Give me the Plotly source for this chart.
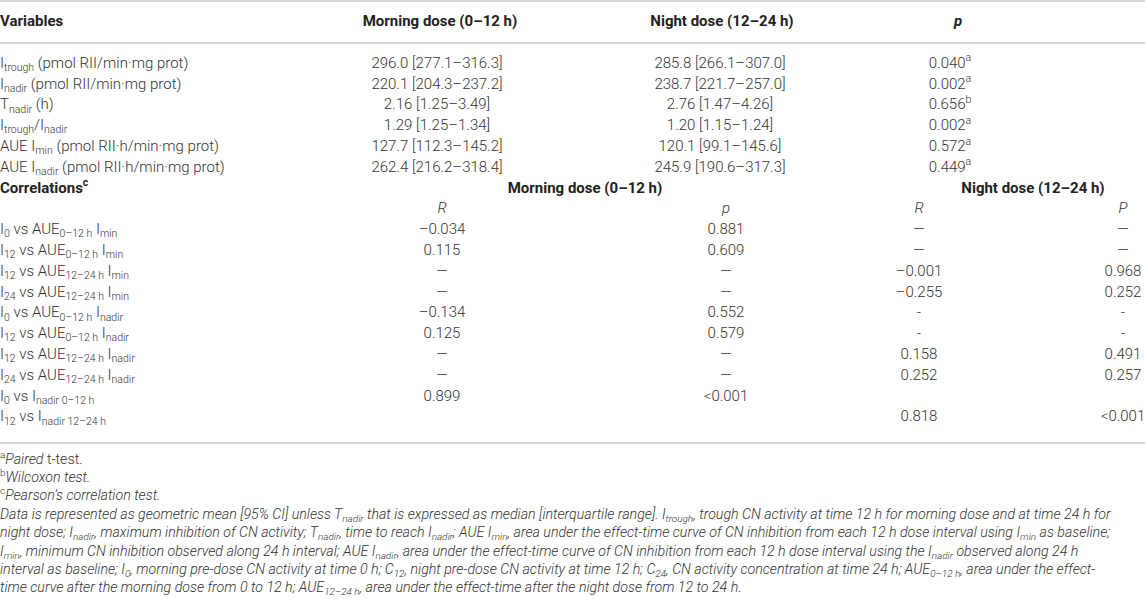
import plotly.graph_objects as go

# ---- summary block ----
variables = [
    "I<sub>trough</sub> (pmol RII/min·mg prot)",
    "I<sub>nadir</sub> (pmol RII/min·mg prot)",
    "T<sub>nadir</sub> (h)",
    "I<sub>trough</sub>/I<sub>nadir</sub>",
    "AUE I<sub>min</sub> (pmol RII·h/min·mg prot)",
    "AUE I<sub>nadir</sub> (pmol RII·h/min·mg prot)",
]
morning_dose = [
    "296.0 [277.1–316.3]",
    "220.1 [204.3–237.2]",
    "2.16 [1.25–3.49]",
    "1.29 [1.25–1.34]",
    "127.7 [112.3–145.2]",
    "262.4 [216.2–318.4]",
]
night_dose = [
    "285.8 [266.1–307.0]",
    "238.7 [221.7–257.0]",
    "2.76 [1.47–4.26]",
    "1.20 [1.15–1.24]",
    "120.1 [99.1–145.6]",
    "245.9 [190.6–317.3]",
]
p_value = ["0.040", "0.002", "0.656", "0.002", "0.572", "0.449"]
p_test = ["a", "a", "b", "a", "a", "a"]

# ---- correlation block ----
corr_labels = [
    "I<sub>0</sub> vs AUE<sub>0–12 h</sub> I<sub>min</sub>",
    "I<sub>12</sub> vs AUE<sub>0–12 h</sub> I<sub>min</sub>",
    "I<sub>12</sub> vs AUE<sub>12–24 h</sub> I<sub>min</sub>",
    "I<sub>24</sub> vs AUE<sub>12–24 h</sub> I<sub>min</sub>",
    "I<sub>0</sub> vs AUE<sub>0–12 h</sub> I<sub>nadir</sub>",
    "I<sub>12</sub> vs AUE<sub>0–12 h</sub> I<sub>nadir</sub>",
    "I<sub>12</sub> vs AUE<sub>12–24 h</sub> I<sub>nadir</sub>",
    "I<sub>24</sub> vs AUE<sub>12–24 h</sub> I<sub>nadir</sub>",
    "I<sub>0</sub> vs I<sub>nadir 0–12 h</sub>",
    "I<sub>12</sub> vs I<sub>nadir 12–24 h</sub>",
]
morning_r = ["–0.034", "0.115", "—", "—", "–0.134", "0.125", "—", "—", "0.899", ""]
morning_p = ["0.881", "0.609", "—", "—", "0.552", "0.579", "—", "—", "&lt;0.001", ""]
night_r = ["—", "—", "–0.001", "–0.255", "-", "-", "0.158", "0.252", "", "0.818"]
night_p = ["—", "—", "0.968", "0.252", "-", "-", "0.491", "0.257", "", "&lt;0.001"]

notes = [
    "<sup>a</sup><i>Paired</i> t-test.",
    "<sup>b</sup><i>Wilcoxon test.</i>",
    "<sup>c</sup><i>Pearson’s correlation test.</i>",
    "<i>Data is represented as geometric mean [95% CI] unless T<sub>nadir</sub> that is expressed as median [interquartile range]. "
    "I<sub>trough</sub>, trough CN activity at time 12 h for morning dose and at time 24 h for</i>",
    "<i>night dose; I<sub>nadir</sub>, maximum inhibition of CN activity; T<sub>nadir</sub>, time to reach I<sub>nadir</sub>; "
    "AUE I<sub>min</sub>, area under the effect-time curve of CN inhibition from each 12 h dose interval using I<sub>min</sub> as baseline;</i>",
    "<i>I<sub>min</sub>, minimum CN inhibition observed along 24 h interval; AUE I<sub>nadir</sub>, area under the effect-time "
    "curve of CN inhibition from each 12 h dose interval using the I<sub>nadir</sub> observed along 24 h</i>",
    "<i>interval as baseline; I<sub>0</sub>, morning pre-dose CN activity at time 0 h; C<sub>12</sub>, night pre-dose CN activity "
    "at time 12 h; C<sub>24</sub>, CN activity concentration at time 24 h; AUE<sub>0–12 h</sub>, area under the effect-</i>",
    "<i>time curve after the morning dose from 0 to 12 h; AUE<sub>12–24 h</sub>, area under the effect-time after the night "
    "dose from 12 to 24 h.</i>",
]

W, H = 1145, 611
ROW0, PITCH = 64, 20.8
NOTE0, NOTE_PITCH = 460, 18.4
FONT = "Roboto, 'Liberation Sans', Arial, sans-serif"
BODY = dict(family=FONT, size=15, color="#333333", weight=300)
BOLD = dict(family=FONT, size=15, color="#222222", weight=700)


def row_y(i):
    return ROW0 + i * PITCH


fig = go.Figure()


def add_col(texts, x, rows, pos="middle center", font=BODY):
    xs = x if isinstance(x, (list, tuple)) else [x] * len(texts)
    fig.add_trace(go.Scatter(
        x=list(xs), y=[row_y(r) for r in rows], text=texts,
        mode="text", textposition=pos, textfont=font,
        hoverinfo="skip", showlegend=False, cliponaxis=False,
    ))


# header row
fig.add_trace(go.Scatter(
    x=[0, 440, 722, 958], y=[22] * 4,
    text=["Variables", "Morning dose (0–12 h)", "Night dose (12–24 h)", "<i>p</i>"],
    mode="text", textposition=["middle right", "middle center", "middle center", "middle center"],
    textfont=BOLD, hoverinfo="skip", showlegend=False, cliponaxis=False,
))

top = list(range(len(variables)))
add_col(variables, 0, top, "middle right")
add_col(morning_dose, 437, top)
add_col(night_dose, 720, top)
add_col([v + "<sup>" + t + "</sup>" for v, t in zip(p_value, p_test)], 950, top)

# correlations sub-header
n0 = len(variables)
add_col(["Correlations<sup>c</sup>"], 0, [n0], "middle right", BOLD)
add_col(["Morning dose (0–12 h)", "Night dose (12–24 h)"], [585, 1033], [n0, n0], font=BOLD)
add_col(["<i>R</i>", "<i>p</i>", "<i>R</i>", "<i>P</i>"], [442, 726, 919, 1123], [n0 + 1] * 4)

rows = [n0 + 2 + i for i in range(len(corr_labels))]
add_col(corr_labels, 0, rows, "middle right")
add_col(morning_r, 442, rows)
add_col(morning_p, 726, rows)
add_col(night_r, 919, rows)
add_col(night_p, 1123, rows)

# footnotes
fig.add_trace(go.Scatter(
    x=[0] * len(notes), y=[NOTE0 + i * NOTE_PITCH for i in range(len(notes))], text=notes,
    mode="text", textposition="middle right",
    textfont=dict(family=FONT, size=14.2, color="#333333", weight=300),
    hoverinfo="skip", showlegend=False, cliponaxis=False,
))

line = dict(color="#c8c8c8", width=1.5)
for yy in (1, 43, 443):
    fig.add_shape(type="line", x0=0, x1=W, y0=yy, y1=yy, xref="x", yref="y", line=line)

fig.update_layout(
    width=W, height=H, margin=dict(l=0, r=0, t=0, b=0),
    paper_bgcolor="white", plot_bgcolor="white",
    xaxis=dict(range=[0, W], visible=False, fixedrange=True),
    yaxis=dict(range=[H, 0], visible=False, fixedrange=True),
)

fig.write_html(
    "out.html",
    config={"displayModeBar": False},
    post_script="document.body.style.margin='0';document.body.style.overflow='hidden';",
)
